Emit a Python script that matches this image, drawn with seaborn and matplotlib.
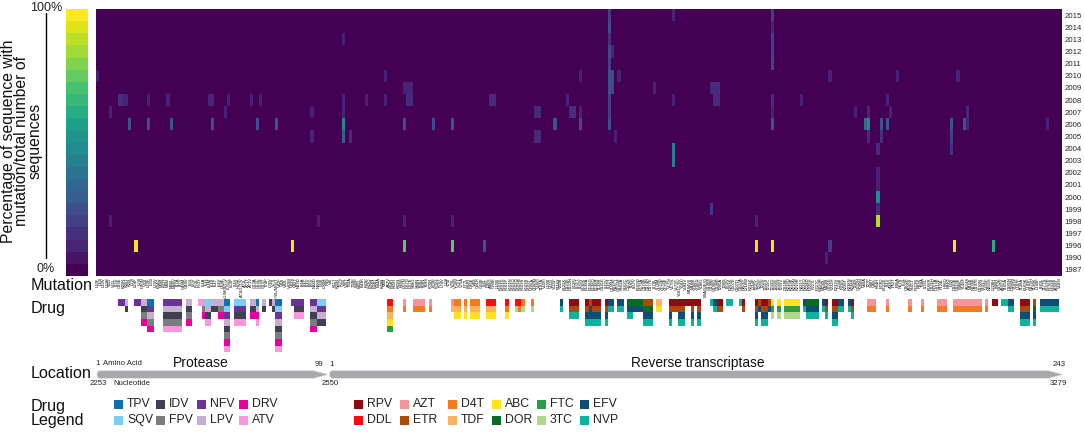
import numpy as np
import seaborn as sns
import matplotlib.pyplot as plt
from matplotlib.colors import ListedColormap
from matplotlib.patches import Rectangle

sns.set_theme(style="white")
plt.rcParams["font.family"] = ["Liberation Sans", "DejaVu Sans"]

# ---------- HEATMAP DATA ----------
years = ["2015", "2014", "2013", "2012", "2011", "2010", "2009", "2008", "2007", "2006", "2005",
         "2004", "2003", "2002", "2001", "2000", "1999", "1998", "1997", "1996", "1990", "1987"]

# mutation labels are too small to read in the picture, so these are best guesses
protease_labels = """
L10F L10I L10V L10R V11I V11L I13V G16E K20R K20T
K20I L23I L24F L24I D30N V32I L33F L33I L33V E34Q
M36I K43T M46I M46L M46V I47A I47V G48M G48V I50L
I50V F53L F53Y I54A I54L I54M I54S I54T I54V Q58E
I54A/L/M/S/T/V I62V/L L63P I64V H69K A71I/L/T/V A71L A71T A71V G73A
G73C G73S G73T T74P L76V V77I V82A/F/I/L/M/S/T V82F V82I V82L
V82M V82S V82T N83D I84A I84C I84V I85V N88D N88S
L89I L90M
""".split()

rt_labels = """
P4S V8I K11T K20R T27S V35I V35T T39A T39E E40F
M41L E43K K43E K43Q K43N E44D E44A K49R V60I A62V
K64R K65R K65N K65E D67N D67G D67E S68G S68N T69D
T69N T69S K70R K70E K70G K70T L74V L74I V75I V75L
V75M V75T V75A F77L K82R D86E V90I Q91R G93E I94L
P95L A98G G99E L100I K101E K101H K101P K101N K101Q K102Q
K103N K103S K103R K103T V106A V106M V106I T107A V108I L109I
V111I Y115F F116Y V118I E122K D123E D123N K126I I135T I135V
E138K E138A E138G E138Q E138R T139R G141E I142V I142T Q145M
N147Y Q151M S162A S162C C162S T165I I167V E169D K173A Q174K
Q174R D177E I178L I178M V179D V179E V179F V179I V179L V179T
Y181C/I/V Y181I Y181V M184V/I M184I Y188C Y188H Y188L G190A/S/E/Q G190S
G190E G190Q G196E T200A T200I I202V E203K Q207E Q207D Q207A
H208Y L210W R211K L214F T215Y T215F T215I T215S T215C T215D
T215E T215N T215V D218E K219Q K219E K219N K219R H221Y K223Q
E224D P225H F227L F227C W229R M230L M230I G231E Y232H E233V
L234I P236L K238T K238N K238R T240I Q242H V35M V60A T27P
S48T V90L K64H E79D K122E I31V A33G P52T E36A N57S
I63L Q102K A158S S105T P119S R83K T58A I135L K166R D121H
P157A G112E F124L H96Q E89G L92I D110E D113E W88C Y146F
A114S M164I N136K Q197E D192N S191T L205F N255S L228H K46R
G152E A155V T165A D185N D186N Y183F L187F T128A E169K L193F
N175H T139K L149F I180L T177S K159R P176S E194K A158T V189I
""".split()
mutation_labels = protease_labels + rt_labels

# non-zero cells only, everything else in the grid is 0%
hit_year = ["2015", "2015", "2015", "2014", "2014", "2013", "2013", "2013", "2012", "2012", "2012", "2011", "2011",
            "2010", "2010", "2010", "2010", "2010", "2010", "2010", "2010", "2010",
            "2009", "2009", "2009", "2009", "2009", "2009", "2009", "2009", "2009",
            "2008", "2008", "2008", "2008", "2008", "2008", "2008", "2008", "2008", "2008", "2008",
            "2008", "2008", "2008", "2008", "2008", "2008", "2008", "2008", "2008", "2008", "2008", "2008", "2008", "2008",
            "2007", "2007", "2007", "2007", "2007", "2007", "2007", "2007", "2007", "2007", "2007", "2007", "2007", "2007", "2007",
            "2006", "2006", "2006", "2006", "2006", "2006", "2006", "2006", "2006", "2006", "2006", "2006", "2006", "2006",
            "2006", "2006", "2006", "2006", "2006", "2006", "2006", "2006",
            "2005", "2005", "2005", "2005", "2005", "2005", "2005", "2005", "2005",
            "2004", "2004", "2004", "2003", "2002", "2001", "2000", "1999",
            "1999", "1998", "1998", "1998", "1998", "1998", "1998",
            "1996", "1996", "1996", "1996", "1996", "1996", "1996", "1996", "1996", "1996", "1990"]
hit_col = [160, 180, 211, 160, 211, 160, 77, 211, 160, 161, 211, 160, 211,
           0, 90, 151, 160, 161, 163, 229, 250, 269,
           96, 97, 98, 160, 161, 174, 192, 193, 194,
           7, 8, 9, 16, 22, 35, 36, 41, 48, 51, 77, 84, 90, 97,
           98, 123, 124, 147, 160, 180, 193, 194, 211, 220, 247,
           4, 40, 67, 77, 137, 138, 148, 149, 151, 160, 211, 237, 241, 248, 272,
           10, 16, 23, 36, 50, 56, 77, 96, 105, 111, 143, 151, 160, 211,
           240, 241, 245, 247, 267, 271, 272, 297,
           67, 77, 79, 137, 138, 162, 241, 245, 267,
           180, 244, 267, 180, 244, 244, 244, 192,
           244, 4, 69, 96, 111, 206, 244,
           12, 61, 96, 111, 121, 206, 211, 229, 268, 280, 228]
hit_pct = [18, 10, 18, 24, 10, 14, 9, 18, 22, 10, 18, 20, 20,
           8, 9, 9, 26, 24, 9, 9, 9, 10,
           10, 10, 10, 24, 22, 9, 12, 12, 12,
           14, 10, 10, 9, 9, 10, 10, 9, 9, 9, 9, 9, 9, 12,
           12, 12, 12, 9, 18, 9, 12, 12, 12, 9, 9,
           9, 9, 9, 9, 12, 12, 14, 14, 9, 18, 9, 9, 10, 9, 12,
           25, 24, 25, 24, 24, 25, 46, 24, 23, 25, 25, 23, 24, 25,
           34, 46, 25, 27, 25, 25, 9, 9,
           10, 30, 12, 12, 12, 9, 12, 14, 18,
           42, 12, 14, 42, 9, 9, 48, 16,
           12, 9, 9, 9, 9, 9, 88,
           98, 98, 74, 74, 25, 96, 98, 18, 98, 62, 9]

colorbar_pct = [100, 95, 90, 86, 81, 76, 71, 67, 62, 57, 52,
                48, 43, 38, 33, 29, 24, 19, 14, 10, 5, 0]

# ---------- DRUG DATA ----------
drug_names = ["TPV", "SQV", "IDV", "FPV", "NFV", "LPV", "DRV", "ATV",
              "RPV", "DDL", "AZT", "ETR", "D4T", "TDF", "ABC", "DOR", "FTC", "3TC", "EFV", "NVP"]
drug_colors = ["#0f71b0", "#7dcef5", "#3f4152", "#7b7c80", "#6b3398", "#c7aed1", "#e6009e", "#fb96dc",
               "#8e0b10", "#ff0a12", "#f5959a", "#ad4a0a", "#f47a20", "#fcb25f", "#ffe21a", "#0a6b22",
               "#2a9c46", "#b0d98b", "#0f4c78", "#0fb39b"]

# runs of (first column, stop column, drug), one list per stacked row
drug_row_0 = [(7, 9, "NFV"), (9, 10, "LPV"), (12, 14, "NFV"), (14, 16, "LPV"), (16, 18, "TPV"), (21, 27, "NFV"),
              (28, 30, "LPV"), (32, 33, "ATV"), (33, 34, "LPV"), (34, 36, "SQV"), (36, 40, "LPV"), (40, 42, "TPV"),
              (43, 47, "SQV"), (48, 50, "LPV"), (50, 51, "TPV"), (52, 53, "LPV"), (54, 55, "IDV"), (55, 56, "LPV"),
              (56, 58, "TPV"), (61, 65, "NFV"), (67, 69, "NFV"), (69, 72, "SQV"),
              (91, 93, "DDL"), (96, 97, "AZT"), (99, 103, "AZT"), (104, 105, "AZT"), (111, 112, "AZT"),
              (112, 114, "D4T"), (115, 116, "D4T"), (117, 120, "D4T"), (122, 125, "DDL"), (128, 129, "DDL"),
              (131, 133, "DDL"), (133, 134, "D4T"), (136, 137, "D4T"), (145, 146, "EFV"), (148, 151, "RPV"),
              (153, 154, "RPV"), (154, 155, "ETR"), (155, 158, "RPV"), (159, 160, "RPV"), (160, 162, "EFV"),
              (163, 165, "EFV"), (166, 171, "DOR"), (171, 174, "ETR"), (175, 177, "TDF"), (179, 189, "RPV"),
              (192, 193, "NVP"), (193, 194, "EFV"), (194, 196, "RPV"), (197, 199, "NVP"), (201, 202, "NVP"),
              (202, 203, "RPV"), (206, 207, "RPV"), (207, 208, "ETR"), (208, 210, "RPV"), (210, 211, "ETR"),
              (211, 212, "ABC"), (213, 214, "ABC"), (215, 220, "ABC"), (221, 222, "EFV"), (222, 226, "DOR"),
              (227, 228, "EFV"), (228, 229, "RPV"), (230, 232, "RPV"), (232, 234, "EFV"), (235, 236, "EFV"),
              (236, 237, "RPV"), (241, 244, "AZT"), (247, 248, "AZT"), (254, 255, "AZT"), (258, 259, "AZT"),
              (263, 266, "AZT"), (268, 277, "AZT"), (278, 279, "AZT"), (280, 282, "RPV"), (283, 285, "NVP"),
              (285, 287, "EFV"), (289, 292, "RPV"), (293, 294, "ETR"), (295, 301, "EFV")]
drug_row_1 = [(9, 10, "IDV"), (14, 16, "IDV"), (16, 18, "NFV"), (21, 27, "LPV"), (28, 30, "IDV"), (33, 34, "FPV"),
              (34, 36, "LPV"), (36, 38, "IDV"), (38, 40, "FPV"), (40, 42, "SQV"), (43, 47, "NFV"), (48, 50, "IDV"),
              (50, 51, "LPV"), (52, 53, "IDV"), (55, 56, "IDV"), (56, 58, "SQV"), (62, 65, "IDV"), (67, 69, "LPV"),
              (69, 72, "NFV"),
              (91, 93, "D4T"), (96, 97, "D4T"), (99, 103, "D4T"), (104, 105, "D4T"), (111, 112, "TDF"),
              (112, 114, "TDF"), (115, 116, "TDF"), (117, 120, "TDF"), (122, 125, "TDF"), (128, 129, "D4T"),
              (131, 132, "3TC"), (132, 133, "D4T"), (133, 134, "3TC"), (136, 137, "3TC"), (145, 146, "NVP"),
              (148, 151, "ETR"), (153, 154, "ETR"), (154, 155, "EFV"), (155, 158, "ETR"), (159, 160, "ETR"),
              (160, 162, "NVP"), (163, 165, "NVP"), (166, 171, "EFV"), (171, 174, "DOR"), (175, 177, "ABC"),
              (179, 184, "ETR"), (186, 187, "ETR"), (188, 189, "ETR"), (193, 194, "NVP"), (194, 196, "ETR"),
              (202, 203, "ETR"), (206, 207, "ETR"), (207, 208, "EFV"), (208, 210, "ETR"), (210, 211, "EFV"),
              (211, 212, "FTC"), (213, 214, "FTC"), (215, 220, "FTC"), (221, 222, "NVP"), (222, 226, "EFV"),
              (227, 228, "NVP"), (228, 229, "ETR"), (230, 232, "ETR"), (232, 234, "NVP"), (235, 236, "NVP"),
              (236, 237, "ETR"), (241, 244, "D4T"), (247, 248, "D4T"), (254, 255, "D4T"), (258, 259, "D4T"),
              (263, 266, "D4T"), (268, 277, "D4T"), (278, 279, "D4T"), (285, 287, "NVP"), (289, 292, "ETR"),
              (293, 294, "DOR"), (295, 301, "NVP")]
drug_row_2 = [(14, 16, "FPV"), (16, 18, "LPV"), (21, 27, "IDV"), (28, 30, "FPV"), (33, 34, "DRV"), (34, 36, "IDV"),
              (38, 40, "DRV"), (40, 42, "NFV"), (43, 47, "IDV"), (48, 50, "DRV"), (50, 51, "DRV"), (56, 58, "NFV"),
              (62, 65, "ATV"), (67, 69, "IDV"), (69, 72, "LPV"),
              (91, 93, "TDF"), (112, 114, "ABC"), (115, 116, "ABC"), (117, 120, "ABC"), (122, 125, "ABC"),
              (128, 129, "ABC"), (148, 151, "NVP"), (153, 155, "EFV"), (155, 158, "EFV"), (159, 160, "EFV"),
              (166, 168, "NVP"), (171, 174, "EFV"), (179, 180, "EFV"), (182, 184, "EFV"), (186, 187, "EFV"),
              (188, 189, "EFV"), (206, 207, "EFV"), (208, 210, "EFV"), (211, 212, "3TC"), (213, 214, "3TC"),
              (215, 220, "3TC"), (222, 226, "NVP"), (228, 229, "NVP"), (230, 232, "EFV"), (236, 237, "NVP"),
              (289, 292, "EFV"), (293, 294, "EFV")]
drug_row_3 = [(14, 16, "DRV"), (16, 18, "FPV"), (21, 27, "FPV"), (28, 30, "DRV"), (34, 36, "ATV"), (40, 42, "LPV"),
              (43, 47, "ATV"), (50, 51, "ATV"), (56, 58, "LPV"), (67, 69, "FPV"), (69, 72, "IDV"),
              (91, 93, "ABC"), (153, 155, "NVP"), (155, 158, "NVP"), (159, 160, "NVP"), (171, 174, "NVP"),
              (179, 180, "NVP"), (182, 184, "NVP"), (186, 187, "NVP"), (188, 189, "NVP"), (206, 207, "NVP"),
              (208, 210, "NVP"), (230, 232, "NVP"), (289, 292, "NVP"), (293, 294, "NVP")]
drug_row_4 = [(16, 18, "DRV"), (21, 27, "ATV"), (40, 42, "IDV"), (56, 58, "IDV"), (67, 69, "DRV"), (91, 93, "FTC")]
drug_row_5 = [(40, 42, "FPV"), (56, 58, "FPV")]
drug_row_6 = [(40, 42, "DRV"), (56, 58, "DRV")]
drug_row_7 = [(40, 42, "ATV"), (56, 58, "ATV")]
drug_rows = [drug_row_0, drug_row_1, drug_row_2, drug_row_3, drug_row_4, drug_row_5, drug_row_6, drug_row_7]

# ---------- LOCATION DATA (in mutation columns) ----------
gene_names = ["Protease", "Reverse transcriptase"]
gene_start = [0.3, 73.0]
gene_stop = [72.6, 302.3]

# legend layout, columns of two
legend_left = ["TPV", "SQV", "IDV", "FPV", "NFV", "LPV", "DRV", "ATV"]
legend_right = ["RPV", "DDL", "AZT", "ETR", "D4T", "TDF", "ABC", "DOR", "FTC", "3TC", "EFV", "NVP"]
legend_x_left = [114, 156, 197, 239]
legend_x_right = [354, 400, 448, 492, 537, 580]

FIG_W, FIG_H = 1084, 432
fig = plt.figure(figsize=(FIG_W / 100, FIG_H / 100), dpi=100)


def px_axes(left, top, right, bottom):
    return fig.add_axes([left / FIG_W, 1 - bottom / FIG_H, (right - left) / FIG_W, (bottom - top) / FIG_H])


# ---------- HEATMAP ----------
grid = np.zeros((len(years), len(mutation_labels)))
for year, col, pct in zip(hit_year, hit_col, hit_pct):
    grid[years.index(year), col] = pct

ax_heat = px_axes(96, 9, 1062, 276)
sns.heatmap(grid, cmap="viridis", vmin=0, vmax=100, cbar=False, ax=ax_heat,
            xticklabels=mutation_labels, yticklabels=years)
ax_heat.yaxis.tick_right()
ax_heat.tick_params(axis="y", length=0, pad=2, labelsize=5.6, labelrotation=0, labelcolor="#222222")
ax_heat.tick_params(axis="x", length=0, pad=1, labelsize=3, labelrotation=90, labelcolor="black")
for lab in ax_heat.get_xticklabels():
    lab.set_va("top")

# ---------- COLOUR SCALE ----------
ax_scale = px_axes(66, 9, 88, 276)
sns.heatmap(np.array(colorbar_pct).reshape(-1, 1), cmap="viridis", vmin=0, vmax=100, cbar=False, ax=ax_scale,
            xticklabels=False, yticklabels=False)

# ---------- DRUG ROWS ----------
drug_grid = np.full((len(drug_rows), len(mutation_labels)), np.nan)
for r, runs in enumerate(drug_rows):
    for start, stop, drug in runs:
        drug_grid[r, start:stop] = drug_names.index(drug)

ax_drug = px_axes(96, 299, 1062, 352.4)
sns.heatmap(drug_grid, cmap=ListedColormap(drug_colors), vmin=-0.5, vmax=len(drug_names) - 0.5, cbar=False,
            ax=ax_drug, xticklabels=False, yticklabels=False)

# ---------- GENE ARROWS ----------
ax_gene = px_axes(96, 370.7, 1062, 378.3)
for start, stop in zip(gene_start, gene_stop):
    # rounded tail, tapered head
    tail = np.linspace(3 * np.pi / 2, np.pi / 2, 12)
    xs = np.r_[start + 0.8 + 0.8 * np.cos(tail), stop - 4.5, stop, stop - 4.5]
    ys = np.r_[0.5 + 0.5 * np.sin(tail), 1.0, 0.5, 0.0]
    ax_gene.fill(xs, ys, facecolor="#a7a8ac", edgecolor="#dfe0e3", linewidth=0.5, clip_on=False)
ax_gene.set_xlim(0, len(mutation_labels))
ax_gene.set_ylim(0, 1)
ax_gene.axis("off")

# ---------- TEXT + LEGEND OVERLAY (figure pixels) ----------
over = fig.add_axes([0, 0, 1, 1], zorder=5)
over.set_xlim(0, FIG_W)
over.set_ylim(FIG_H, 0)
over.axis("off")
over.patch.set_alpha(0)

over.text(62, 8, "100%", ha="right", va="center", fontsize=9, color="#222222")
over.text(55, 269, "0%", ha="right", va="center", fontsize=9, color="#222222")
over.plot([46, 46], [13, 258], color="black", lw=1)
over.text(22, 141, "Percentage of sequence with\nmutation/total number of\nsequences", rotation=90,
          ha="center", va="center", fontsize=11.3, linespacing=0.88, multialignment="center", color="#111111")

for label, y in zip(["Mutation", "Drug", "Location", "Drug", "Legend"], [286, 309, 374, 407, 421]):
    over.text(31, y, label, ha="left", va="center", fontsize=11.6, color="#111111")

over.text(201, 363, gene_names[0], ha="center", va="center", fontsize=10, color="#111111")
over.text(697.5, 363, gene_names[1], ha="center", va="center", fontsize=9.9, color="#111111")

small_text = [("1", 97.5, 363.5, "center"), ("Amino Acid", 103, 363.5, "left"), ("99", 319, 365, "center"),
              ("1", 332, 365, "center"), ("243", 1059, 365, "center"), ("2253", 98, 383.5, "center"),
              ("Nucleotide", 113, 383.5, "left"), ("2550", 330, 383.5, "center"), ("3279", 1058, 383.5, "center")]
for label, x, y, ha in small_text:
    over.text(x, y, label, ha=ha, va="center", fontsize=5.6, color="#222222")

for names, xs in [(legend_left, legend_x_left), (legend_right, legend_x_right)]:
    for i, name in enumerate(names):
        x = xs[i // 2]
        y = 400 if i % 2 == 0 else 416
        color = drug_colors[drug_names.index(name)]
        over.add_patch(Rectangle((x, y), 8.5, 8.5, facecolor=color, edgecolor="none"))
        over.text(x + 13, y + 4.3, name, ha="left", va="center", fontsize=8.8, color="#222222")

fig.savefig("out.png", dpi=100)
